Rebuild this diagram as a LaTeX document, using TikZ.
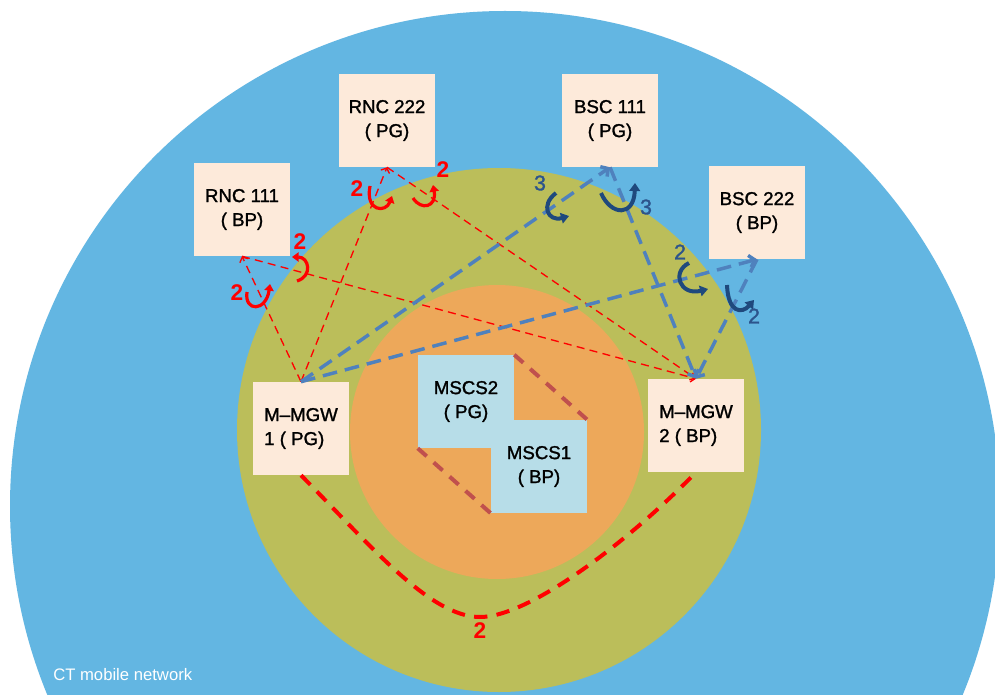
\documentclass[tikz,border=0pt]{standalone}
\usepackage{fontspec}
\setmainfont{Liberation Sans}
\newfontfamily\heavyfont{Liberation Sans}[FakeBold=1.4]
\usetikzlibrary{arrows.meta}
\definecolor{ringblue}{RGB}{99,182,226}
\definecolor{ringgreen}{RGB}{187,190,90}
\definecolor{ringorange}{RGB}{237,168,90}
\definecolor{boxpeach}{RGB}{253,234,218}
\definecolor{boxblue}{RGB}{183,221,232}
\definecolor{linkblue}{RGB}{79,129,189}
\definecolor{turnblue}{RGB}{31,73,125}
\definecolor{countblue}{RGB}{44,84,140}
\definecolor{mscred}{RGB}{192,80,77}
\tikzset{
x=0.75pt, y=-0.75pt, % one unit is one pixel, y points down
box/.style={fill=boxpeach, minimum width=72pt, minimum height=69.75pt, inner sep=0pt, align=center, font=\heavyfont\fontsize{14}{18}\selectfont}, % network elements
mscbox/.style={box, fill=boxblue}, % the two MSC servers
redlink/.style={red, line width=1pt, dash pattern=on 6pt off 4pt, -{Straight Barb[length=3pt,width=7pt]}}, % RNC links
bluelink/.style={linkblue, line width=2.6pt, dash pattern=on 11pt off 6pt, -{Straight Barb[length=4pt,width=9pt]}}, % BSC links
redturn/.style={red, line width=2.4pt, -{Triangle[length=5pt,width=7pt]}}, % curved arrows
blueturn/.style={turnblue, line width=3pt, -{Triangle[length=6pt,width=8pt]}},
redcount/.style={text=red, inner sep=0pt, font=\fontsize{17}{17}\selectfont\bfseries}, % link counts
bluecount/.style={text=countblue, inner sep=0pt, font=\heavyfont\fontsize{16}{16}\selectfont},
}
\begin{document}
\begin{tikzpicture}
    \useasboundingbox (0,0) rectangle (995,695);
    \clip (0,0) rectangle (995,695);
    \fill[white] (0,0) rectangle (995,695);

    % network rings
    \fill[ringblue] (505,506) circle[radius=495];
    \fill[ringgreen] (499,430) circle[radius=262];
    \fill[ringorange] (497,432) circle[radius=147];

    \node[box] (rnc1) at (242,209.5) {RNC 111\\( BP)};
    \node[box] (rnc2) at (387,120.5) {RNC 222\\( PG)};
    \node[box] (bsc1) at (610,120.5) {BSC 111\\( PG)};
    \node[box] (bsc2) at (757,212.5) {BSC 222\\( BP)};
    \node[box, align=left] (mgw1) at (301,428.5) {M–MGW\\1 ( PG)};
    \node[box, align=left] (mgw2) at (696,425.5) {M–MGW\\2 ( BP)};
    \node[mscbox] (msc2) at (466,401.5) {MSCS2\\( PG)};
    \node[mscbox] (msc1) at (539,466.5) {MSCS1\\( BP)};

    \path
    (mgw1.north) edge[redlink] (rnc1.south)
    (mgw1.north) edge[redlink] (rnc2.south)
    (rnc1.south) edge[redlink] (mgw2.north)
    (rnc2.south) edge[redlink] (mgw2.north)
    (mgw1.north) edge[bluelink] (bsc1.south)
    (mgw1.north) edge[bluelink] (bsc2.south)
    (bsc1.south) edge[bluelink] (mgw2.north)
    (bsc2.south) edge[bluelink] (mgw2.north);

    \draw[mscred, line width=3pt, dash pattern=on 9pt off 7pt]
    (msc2.north east) -- (msc1.north east)
    (msc2.south west) -- (msc1.south west);

    \draw[red, line width=3pt, dash pattern=on 10pt off 7pt]
    (mgw1.south) .. controls (370,545) and (430,617) .. (480,617)
    .. controls (530,617) and (630,540) .. (mgw2.south);
    \node[redcount] (c9) at (480,631) {2};

    % link counts with their curved arrows
    \draw[redturn] (247,292) .. controls (244,312) and (266,312) .. (270,284);
    \node[redcount] (c1) at (237,293) {2};
    \draw[redturn] (297,281) .. controls (313,276) and (309,257) .. (292,257);
    \node[redcount] (c2) at (300,242) {2};
    \draw[redturn] (370,186) .. controls (365,212) and (386,213) .. (392,196);
    \node[redcount] (c3) at (357,189) {2};
    \draw[redturn] (413,198) .. controls (421,211) and (437,207) .. (433,185);
    \node[redcount] (c4) at (443,170) {2};

    \draw[blueturn] (556,193) .. controls (540,205) and (548,222) .. (569,216);
    \node[bluecount] (c5) at (540,183) {3};
    \draw[blueturn] (601,193) .. controls (611,216) and (634,217) .. (635,183);
    \node[bluecount] (c6) at (646,207) {3};
    \draw[blueturn] (689,263) .. controls (671,272) and (680,296) .. (708,289);
    \node[bluecount] (c7) at (680,252) {2};
    \draw[blueturn] (727,285) .. controls (728,313) and (742,314) .. (754,300);
    \node[bluecount] (c8) at (754,316) {2};

    \node[white, anchor=west, inner sep=0pt, font=\fontsize{12.5}{12.5}\selectfont] (ct) at (53,675) {CT mobile network};
\end{tikzpicture}
\end{document}
